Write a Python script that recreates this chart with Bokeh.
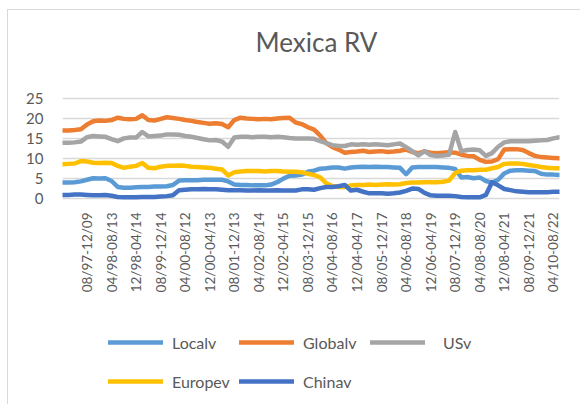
import math
from bokeh.plotting import figure
from bokeh.layouts import column
from bokeh.models import Range1d, FixedTicker, Legend, LegendItem, Title
from bokeh.embed import file_html
from bokeh.resources import INLINE

title_text = "Mexica RV"

tick_labels = ["08/97-12/09", "04/98-08/13", "12/98-04/14", "08/99-12/14", "04/00-08/12",
               "12/00-04/13", "08/01-12/13", "04/02-08/14", "12/02-04/15", "08/03-12/15",
               "04/04-08/16", "12/04-04/17", "08/05-12/17", "04/06-08/18", "12/06-04/19",
               "08/07-12/19", "04/08-08/20", "12/08-04/21", "08/09-12/21", "04/10-08/22"]
tick_positions = [4 + 4 * k for k in range(len(tick_labels))]

localv = [3.9, 3.9, 4.0, 4.2, 4.6, 5.0, 4.9, 5.0, 4.3, 2.8,
          2.6, 2.6, 2.7, 2.8, 2.8, 2.9, 2.9, 3.0, 3.3, 4.4,
          4.5, 4.5, 4.5, 4.6, 4.6, 4.6, 4.6, 4.2, 3.4, 3.3,
          3.3, 3.2, 3.2, 3.2, 3.4, 4.0, 4.9, 5.6, 5.7, 5.9,
          6.6, 6.9, 7.4, 7.5, 7.7, 7.7, 7.4, 7.7, 7.8, 7.9,
          7.8, 7.9, 7.8, 7.8, 7.7, 7.6, 6.0, 7.7, 7.8, 7.8,
          7.8, 7.8, 7.7, 7.6, 7.3, 5.2, 5.3, 5.0, 5.2, 4.3,
          3.9, 4.6, 6.2, 6.9, 7.0, 7.0, 6.9, 6.8, 6.1, 5.9,
          5.9, 5.8]
globalv = [17.0, 17.0, 17.1, 17.3, 18.5, 19.3, 19.5, 19.4, 19.6, 20.2,
           19.9, 19.8, 19.9, 20.8, 19.6, 19.5, 19.9, 20.3, 20.1, 19.9,
           19.6, 19.4, 19.1, 18.9, 18.7, 18.8, 18.6, 17.8, 19.6, 20.2,
           20.0, 19.9, 19.8, 19.9, 19.8, 20.0, 20.1, 20.2, 19.0, 18.6,
           17.8, 17.2, 15.7, 13.8, 12.8, 12.2, 11.4, 11.6, 11.7, 11.9,
           11.6, 11.7, 11.8, 11.6, 11.7, 11.9, 12.2, 11.6, 11.3, 11.7,
           11.4, 11.3, 11.4, 11.5, 11.4, 10.9, 10.6, 10.5, 9.6, 9.1,
           9.2, 9.8, 12.2, 12.3, 12.3, 12.1, 11.3, 10.6, 10.3, 10.2,
           10.1, 10.0]
usv = [13.9, 13.9, 14.0, 14.2, 15.3, 15.6, 15.5, 15.4, 14.8, 14.3,
       15.0, 15.2, 15.2, 16.6, 15.5, 15.6, 15.7, 16.0, 16.0, 15.9,
       15.6, 15.4, 15.1, 14.8, 14.5, 14.6, 14.2, 12.9, 15.2, 15.4,
       15.4, 15.3, 15.4, 15.4, 15.3, 15.4, 15.3, 15.1, 15.0, 15.0,
       15.0, 14.9, 14.3, 13.8, 13.3, 13.1, 13.1, 13.5, 13.4, 13.5,
       13.4, 13.5, 13.4, 13.3, 13.5, 13.7, 12.8, 11.8, 10.7, 11.8,
       10.8, 10.6, 10.7, 10.9, 16.6, 11.8, 12.1, 12.2, 12.0, 10.6,
       11.3, 12.9, 14.0, 14.3, 14.3, 14.3, 14.3, 14.4, 14.5, 14.6,
       15.0, 15.3]
europev = [8.5, 8.6, 8.7, 9.3, 9.2, 8.9, 8.8, 8.9, 8.8, 8.1,
           7.6, 7.9, 8.1, 8.8, 7.6, 7.5, 7.9, 8.1, 8.1, 8.2,
           8.1, 7.9, 7.8, 7.7, 7.6, 7.4, 7.2, 5.7, 6.5, 6.7,
           6.8, 6.8, 6.8, 6.7, 6.8, 6.8, 6.7, 6.6, 6.6, 6.5,
           6.1, 5.8, 5.2, 3.7, 3.0, 2.8, 2.8, 3.2, 3.3, 3.3,
           3.4, 3.3, 3.4, 3.5, 3.4, 3.5, 3.8, 3.9, 3.9, 4.0,
           4.0, 4.0, 4.1, 4.4, 6.3, 6.9, 7.0, 7.0, 7.1, 7.1,
           7.5, 7.8, 8.6, 8.7, 8.7, 8.6, 8.3, 8.1, 7.8, 7.6,
           7.5, 7.5]
chinav = [0.8, 0.8, 0.9, 0.9, 0.8, 0.7, 0.7, 0.8, 0.6, 0.3,
          0.2, 0.2, 0.2, 0.3, 0.3, 0.3, 0.4, 0.5, 0.7, 2.0,
          2.1, 2.2, 2.2, 2.3, 2.2, 2.2, 2.1, 2.0, 2.0, 2.0,
          1.9, 1.9, 2.0, 1.9, 1.9, 2.0, 1.9, 1.9, 1.9, 2.2,
          2.2, 2.1, 2.5, 2.8, 2.8, 3.0, 3.3, 1.9, 2.1, 1.6,
          1.2, 1.2, 1.2, 1.1, 1.2, 1.4, 1.8, 2.4, 2.3, 1.3,
          0.7, 0.6, 0.6, 0.6, 0.5, 0.3, 0.2, 0.2, 0.2, 0.8,
          4.0, 3.2, 2.3, 2.0, 1.7, 1.6, 1.5, 1.5, 1.5, 1.5,
          1.6, 1.6]

series_names = ["Localv", "Globalv", "USv", "Europev", "Chinav"]
series_values = [localv, globalv, usv, europev, chinav]
series_colors = ["#5B9BD5", "#ED7D31", "#A5A5A5", "#FFC000", "#4472C4"]
y_ticks = [0, 5, 10, 15, 20, 25]

FONT = "Lato"
TXT = "#595959"
GRID = "#D9D9D9"

n = len(localv)
xs = list(range(n))

# ---------------- main chart ----------------
p = figure(width=572, height=290, output_backend="svg", toolbar_location=None,
           x_range=Range1d(0, n - 1), y_range=Range1d(-0.6, 31.8),
           min_border_left=54, min_border_right=21, min_border_top=60,
           min_border_bottom=100, outline_line_color=None,
           background_fill_color="white", border_fill_color="white")

t = Title(text=title_text, align="left", offset=193, vertical_align="bottom",
          text_font=FONT, text_font_size="26px", text_font_style="normal",
          text_color=TXT, standoff=27)
p.add_layout(t, "above")

for name, vals, col in zip(series_names, series_values, series_colors):
    p.line(xs, vals, line_color=col, line_width=4.5, line_join="round", line_cap="round")

p.xaxis.ticker = FixedTicker(ticks=tick_positions)
p.xaxis.major_label_overrides = {tp: lab for tp, lab in zip(tick_positions, tick_labels)}
p.xaxis.major_label_orientation = math.pi / 2
p.xaxis.axis_line_color = None
p.xaxis.major_tick_line_color = None
p.xaxis.minor_tick_line_color = None
p.xaxis.major_tick_out = 0
p.xaxis.major_tick_in = 0
p.xaxis.major_label_standoff = 12
p.xaxis.major_label_text_font = FONT
p.xaxis.major_label_text_font_size = "13.5px"
p.xaxis.major_label_text_color = TXT

p.yaxis.ticker = FixedTicker(ticks=y_ticks)
p.yaxis.axis_line_color = None
p.yaxis.major_tick_line_color = None
p.yaxis.minor_tick_line_color = None
p.yaxis.major_tick_out = 0
p.yaxis.major_tick_in = 0
p.yaxis.major_label_standoff = 19
p.yaxis.major_label_text_font = FONT
p.yaxis.major_label_text_font_size = "15px"
p.yaxis.major_label_text_color = TXT

p.xgrid.grid_line_color = None
p.ygrid.ticker = FixedTicker(ticks=y_ticks)
p.ygrid.grid_line_color = GRID
p.ygrid.grid_line_width = 1.3

# ---------------- legend strip ----------------
# The series are redrawn here far outside the visible range only so that the
# legend entries get their line glyphs.
lg = figure(width=572, height=104, output_backend="svg", toolbar_location=None,
            x_range=Range1d(0, n - 1), y_range=Range1d(1000, 1001),
            x_axis_location=None, y_axis_location=None,
            min_border_left=0, min_border_right=0, min_border_top=0, min_border_bottom=0,
            outline_line_color=None, background_fill_color="white", border_fill_color="white")
lg.grid.visible = False

items = []
for name, vals, col in zip(series_names, series_values, series_colors):
    r = lg.line(xs, vals, line_color=col, line_width=4.5, line_cap="round")
    items.append(LegendItem(label=name, renderers=[r]))

legend_kw = dict(orientation="horizontal", glyph_width=55, glyph_height=20,
                 label_width=67, label_height=38, spacing=0,
                 padding=0, margin=0, border_line_color=None, background_fill_alpha=0,
                 label_text_font=FONT, label_text_font_size="16px", label_text_color=TXT)
lg.add_layout(Legend(items=items[:2], location=(46, 43), label_standoff=9, **legend_kw))
lg.add_layout(Legend(items=items[2:3], location=(308, 43), label_standoff=18, **legend_kw))
lg.add_layout(Legend(items=items[3:], location=(46, 4), label_standoff=9, **legend_kw))

layout = column(p, lg, spacing=0)
layout.styles = {"margin-left": "7px", "margin-top": "9px",
                 "border-left": "1px solid #D9D9D9", "border-top": "1px solid #D9D9D9"}
open("out.html", "w").write(file_html(layout, INLINE))
